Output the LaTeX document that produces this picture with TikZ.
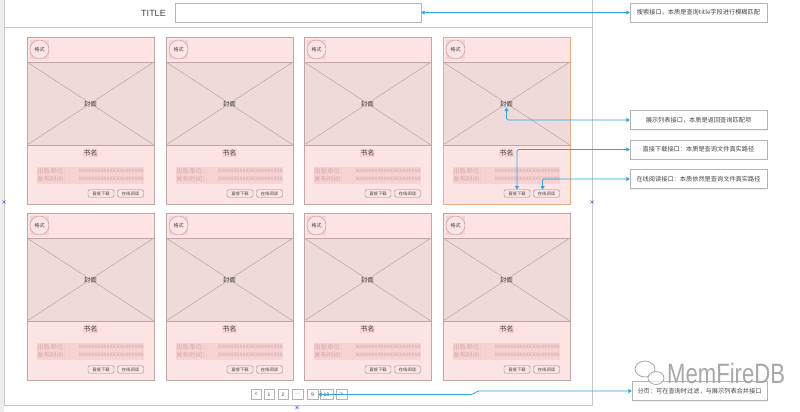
\documentclass[tikz,border=0pt]{standalone}
\usepackage{fontspec}
\setmainfont{Noto Sans CJK SC}
\newfontfamily\latinsans{Liberation Sans}
\usetikzlibrary{arrows.meta,calc,shadows}
\definecolor{cardfill}{HTML}{FCE4E4}
\definecolor{imgfill}{HTML}{EFDADA}
\definecolor{cardborder}{HTML}{C2A6A6}
\definecolor{orangeb}{HTML}{EBAE82}
\definecolor{xline}{HTML}{C0A2A2}
\definecolor{hl}{HTML}{F8D2D2}
\definecolor{labeltext}{HTML}{D2A8A8}
\definecolor{xtext}{HTML}{C4AAAA}
\definecolor{arrowblue}{HTML}{2AA6E8}
\definecolor{framegray}{HTML}{C8C8C8}
\definecolor{boxgray}{HTML}{B4B4B4}
\definecolor{txtdark}{HTML}{444444}
\definecolor{circb}{HTML}{B89A9A}
\definecolor{btnb}{HTML}{9C8484}
\definecolor{markblue}{HTML}{5060F0}
\definecolor{wmgray}{HTML}{A8A8A8}
\tikzset{
  rbox/.style={draw=boxgray, fill=white, minimum width=137, minimum height=19, inner sep=0,
    font=\fontsize{6.2}{7}\selectfont, text=txtdark,
    drop shadow={opacity=0.12, shadow xshift=1pt, shadow yshift=-1pt}},
  btn/.style={draw=btnb, fill=cardfill, rounded corners=1.5pt, minimum width=26, minimum height=7.5,
    inner sep=0, font=\fontsize{4.3}{5}\selectfont, text=txtdark},
  pg/.style={draw=boxgray, fill=white, minimum height=10, inner sep=0,
    font=\latinsans\fontsize{5}{6}\selectfont, text=txtdark},
  conn/.style={draw=arrowblue, line width=0.8pt, rounded corners=2pt,
    {Triangle[length=3.5pt,width=4pt]}-{Triangle[length=3.5pt,width=4pt]}},
  markx/.style={draw=markblue, line width=0.5pt}
}
\begin{document}
\begin{tikzpicture}[x=1pt,y=-1pt]
\useasboundingbox (0,0) rectangle (800,412);
\fill[white] (0,0) rectangle (800,412);
\fill[black!7] (0,0) rectangle (4,412);
% frame
\draw[framegray, line width=0.7pt] (4,0) -- (4,405) -- (592,405) -- (592,0);
\draw[framegray, line width=0.7pt] (4,27) -- (592,27);
% title
\node[font=\latinsans\fontsize{9}{10}\selectfont, text=txtdark] (titlelbl) at (153.5,13) {TITLE};
\node[draw=boxgray, fill=white, minimum width=246, minimum height=19, inner sep=0] (titlebox) at (298,12.5) {};
% cards
\foreach \r/\y in {1/37,2/213}{
  \foreach \c/\x in {1/27,2/166,3/304,4/443}{
    \fill[cardfill] (\x,\y) rectangle (\x+127,\y+167);
    \fill[imgfill] (\x,\y+25) rectangle (\x+127,\y+108);
    \draw[xline, line width=0.5pt] (\x,\y+25) -- (\x+127,\y+108) (\x+127,\y+25) -- (\x,\y+108);
    \draw[cardborder, line width=0.6pt] (\x,\y+25) -- (\x+127,\y+25) (\x,\y+108) -- (\x+127,\y+108);
    \fill[hl] (\x+3,\y+3) rectangle (\x+22,\y+22);
    \node[circle, draw=circb, fill=cardfill, minimum size=19, inner sep=0,
      font=\fontsize{5}{6}\selectfont, text=txtdark] (fmt\r\c) at (\x+12.5,\y+12.5) {格式};
    \node[font=\fontsize{6.3}{7}\selectfont, text=txtdark, inner sep=0.5pt] (cov\r\c) at (\x+63.5,\y+67) {封面};
    \node[font=\fontsize{6.8}{7}\selectfont, text=txtdark, fill=hl, inner sep=1pt] (name\r\c) at (\x+63.5,\y+116) {书名};
    \fill[hl] (\x+10,\y+129.5) rectangle (\x+117,\y+146.5);
    \node[anchor=west, inner sep=0, font=\fontsize{6.5}{7}\selectfont, text=labeltext] (pub\r\c) at (\x+10,\y+134) {出版单位：};
    \node[anchor=west, inner sep=0, font=\fontsize{6.5}{7}\selectfont, text=labeltext] (date\r\c) at (\x+10,\y+142) {发布时间：};
    \node[anchor=east, inner sep=0, font=\fontsize{6.2}{7}\selectfont, text=xtext] (pubv\r\c) at (\x+117,\y+134) {xxxxxxxxxxxxxxxxxxxxx};
    \node[anchor=east, inner sep=0, font=\fontsize{6.2}{7}\selectfont, text=xtext] (datev\r\c) at (\x+117,\y+142) {xxxxxxxxxxxxxxxxxxxxx};
    \node[btn] (dl\r\c) at (\x+74,\y+156.5) {直接下载};
    \node[btn] (rd\r\c) at (\x+103.5,\y+156.5) {在线阅读};
    \ifnum\r\c=14
      \draw[orangeb, line width=0.7pt] (\x,\y) rectangle (\x+127,\y+167);
    \else
      \draw[cardborder, line width=0.7pt] (\x,\y) rectangle (\x+127,\y+167);
    \fi
  }
}
% pagination
\node[pg, minimum width=10] (pprev) at (256,394.5) {<};
\node[pg, minimum width=10] (p1) at (269,394.5) {1};
\node[pg, minimum width=10] (p2) at (283,394.5) {2};
\node[pg, minimum width=11] (pdots) at (297.5,394.5) {…};
\node[pg, minimum width=11] (p9) at (312.5,394.5) {9};
\node[pg, minimum width=13] (p10) at (326.5,394.5) {10};
\node[pg, minimum width=11] (pnext) at (341.5,394.5) {>};
% right boxes
\node[rbox] (n1) at (698.5,12.5) {搜索接口，本质是查询title字段进行模糊匹配};
\node[rbox] (n2) at (698.5,120) {展示列表接口，本质是返回查询匹配项};
\node[rbox] (n3) at (698.5,149.5) {直接下载接口：本质是查询文件真实路径};
\node[rbox] (n4) at (698.5,179) {在线阅读接口：本质依然是查询文件真实路径};
\node[rbox, minimum width=135] (n5) at (699.5,391) {分页：可在查询时过滤，与展示列表合并接口};
% connectors
\draw[conn] (titlebox.east) -- (n1.west);
\draw[conn] (cov14.south) |- (n2.west);
\draw[conn] (n3.west) -| (dl14.north);
\draw[conn] (n4.west) -| ([xshift=-4]rd14.north);
\coordinate (bendA) at (473,394.5);
\coordinate (bendB) at (477,391);
\draw[conn] (p9.east) -- (bendA) -- (bendB) -- (n5.west);
% markers
\draw[markx] (2.5,200.5) -- (5.5,203.5) (2.5,203.5) -- (5.5,200.5);
\draw[markx] (590.5,200.5) -- (593.5,203.5) (590.5,203.5) -- (593.5,200.5);
\draw[markx] (295.5,406) -- (298.5,409) (295.5,409) -- (298.5,406);
% watermark
\draw[wmgray, line width=0.8pt, fill=white, fill opacity=0.6] (645,369) ellipse (10 and 8);
\draw[wmgray, line width=0.8pt, fill=white, fill opacity=0.6] (656,378) ellipse (8 and 6.5);
\node[anchor=west, inner sep=0, text=wmgray, xscale=0.79, font=\latinsans\fontsize{28}{29}\selectfont] (wm) at (667,373) {MemFireDB};
\end{tikzpicture}
\end{document}
